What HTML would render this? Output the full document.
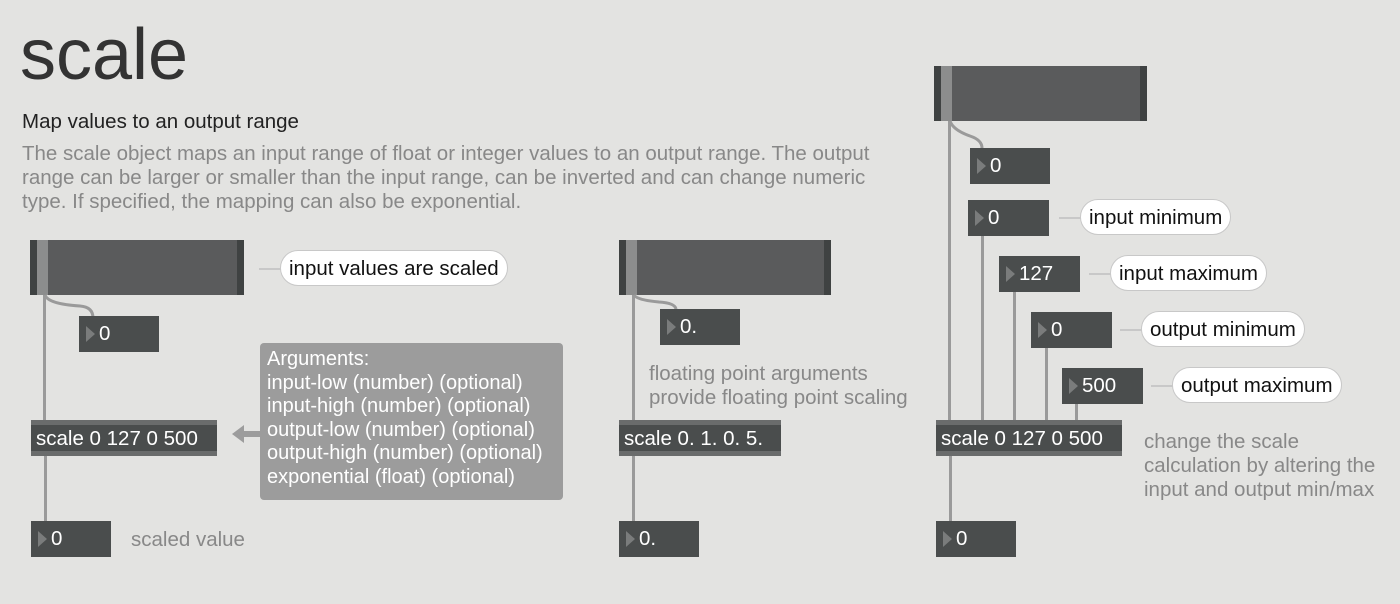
<!DOCTYPE html>
<html><head><meta charset="utf-8"><style>
body{margin:0;width:1400px;height:604px;background:#e3e3e1;position:relative;overflow:hidden;font-family:"Liberation Sans",sans-serif}
.a{position:absolute}
.sl{position:absolute;background:#5a5b5c;border-left:7px solid #3f4242;border-right:7px solid #3f4242;box-sizing:border-box}
.sl::before{content:"";position:absolute;left:0;top:0;width:11px;height:100%;background:#8c8d8d}
.nb{position:absolute;background:#4a4d4d;color:#fff;font-size:20.5px;height:36px;line-height:36px;box-sizing:border-box;padding-left:20px}
.nb::before{content:"";position:absolute;left:7px;top:10px;border-left:9px solid #7a7c7c;border-top:8px solid transparent;border-bottom:8px solid transparent}
.ob{position:absolute;background:#4a4d4d;color:#fff;font-size:20.5px;height:36px;line-height:37px;box-sizing:border-box;padding-left:5px;border-top:5px solid #6a6c6c;border-bottom:5px solid #6a6c6c;white-space:nowrap}
.ob span{position:relative;top:-5px}
.w{position:absolute;background:#9a9a9a;width:3px}
.bb{position:absolute;background:#fff;border:1px solid #c8c8c8;border-radius:18px;height:36px;line-height:36px;font-size:20.5px;color:#111;padding:0 8px;box-sizing:border-box;white-space:nowrap}
.bb::before{content:"";position:absolute;left:-22px;top:17px;width:22px;height:2px;background:#c8c8c8}
.g{color:#888;font-size:20.5px;line-height:24px}
</style></head><body>
<div class="a" style="left:20px;top:14px;font-size:72px;color:#333">scale</div>
<div class="a" style="left:22px;top:110px;font-size:20.5px;color:#222">Map values to an output range</div>
<div class="a g" style="left:22px;top:142px;width:875px">The scale object maps an input range of float or integer values to an output range. The output range can be larger or smaller than the input range, can be inverted and can change numeric type. If specified, the mapping can also be exponential.</div>

<!-- left -->
<div class="sl" style="left:30px;top:240px;width:214px;height:55px"></div>
<div class="w" style="left:43px;top:295px;height:125px"></div>
<svg class="a" style="left:40px;top:292px" width="60" height="30"><path d="M5 3 Q8 12 40 14 Q53 15 53 26" stroke="#9a9a9a" stroke-width="3" fill="none"/></svg>
<div class="nb" style="left:79px;top:316px;width:80px">0</div>
<div class="bb" style="left:280px;top:250px">input values are scaled</div>
<div class="a" style="left:260px;top:343px;width:303px;height:157px;background:#9c9c9c;border-radius:4px;color:#fff;font-size:20px;line-height:23.5px;padding:5px 7px;box-sizing:border-box;white-space:nowrap">Arguments:<br>input-low (number) (optional)<br>input-high (number) (optional)<br>output-low (number) (optional)<br>output-high (number) (optional)<br>exponential (float) (optional)</div>
<svg class="a" style="left:230px;top:424px" width="32" height="20"><path d="M2 10 L14 1 L14 7 L30 7 L30 13 L14 13 L14 19Z" fill="#9c9c9c"/></svg>
<div class="ob" style="left:31px;top:420px;width:186px"><span>scale 0 127 0 500</span></div>
<div class="w" style="left:44px;top:456px;height:65px"></div>
<div class="nb" style="left:31px;top:521px;width:80px">0</div>
<div class="a g" style="left:131px;top:528px">scaled value</div>

<!-- middle -->
<div class="sl" style="left:619px;top:240px;width:212px;height:55px"></div>
<div class="w" style="left:632px;top:295px;height:125px"></div>
<svg class="a" style="left:629px;top:292px" width="60" height="20"><path d="M5 3 Q8 8 30 10 Q46 11 47 17" stroke="#9a9a9a" stroke-width="3" fill="none"/></svg>
<div class="nb" style="left:660px;top:309px;width:80px">0.</div>
<div class="a g" style="left:649px;top:362px">floating point arguments<br>provide floating point scaling</div>
<div class="ob" style="left:619px;top:420px;width:162px"><span>scale 0. 1. 0. 5.</span></div>
<div class="w" style="left:632px;top:456px;height:65px"></div>
<div class="nb" style="left:619px;top:521px;width:80px">0.</div>

<!-- right -->
<div class="sl" style="left:934px;top:66px;width:213px;height:55px"></div>
<div class="w" style="left:948px;top:121px;height:299px"></div>
<svg class="a" style="left:945px;top:118px" width="50" height="32"><path d="M5 3 Q8 12 25 18 Q37 22 37 30" stroke="#9a9a9a" stroke-width="3" fill="none"/></svg>
<div class="nb" style="left:970px;top:148px;width:80px">0</div>
<div class="nb" style="left:968px;top:200px;width:81px">0</div>
<div class="nb" style="left:999px;top:256px;width:81px">127</div>
<div class="nb" style="left:1031px;top:312px;width:81px">0</div>
<div class="nb" style="left:1062px;top:368px;width:81px">500</div>
<div class="w" style="left:981px;top:236px;height:184px"></div>
<div class="w" style="left:1013px;top:292px;height:128px"></div>
<div class="w" style="left:1045px;top:348px;height:72px"></div>
<div class="w" style="left:1075px;top:404px;height:16px"></div>
<div class="bb" style="left:1080px;top:199px">input minimum</div>
<div class="bb" style="left:1110px;top:255px">input maximum</div>
<div class="bb" style="left:1141px;top:311px">output minimum</div>
<div class="bb" style="left:1172px;top:367px">output maximum</div>
<div class="ob" style="left:936px;top:420px;width:186px"><span>scale 0 127 0 500</span></div>
<div class="a g" style="left:1144px;top:430px;white-space:nowrap">change the scale<br>calculation by altering the<br>input and output min/max</div>
<div class="w" style="left:949px;top:456px;height:65px"></div>
<div class="nb" style="left:936px;top:521px;width:80px">0</div>
</body></html>
